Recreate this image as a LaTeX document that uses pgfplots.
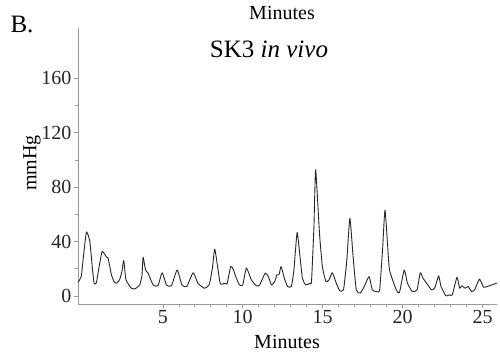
\documentclass[border=0pt]{standalone}
\usepackage{pgfplots}
\pgfplotsset{compat=1.18}
\usepackage{fontspec}
\setmainfont{Liberation Serif}
\begin{document}
\begin{tikzpicture}
\begin{axis}[
  at={(0,0)}, anchor=south west,
  scale only axis, width=419pt, height=276pt,
  xmin=-0.3, xmax=25.9, ymin=-6, ymax=197,
  axis lines=left,
  axis line style={-, draw=gray!80},
  tick style={draw=gray!80, line width=0.5pt},
  tick align=outside,
  major tick length=4pt, minor tick length=2.5pt,
  xtick={5,10,15,20,25}, ytick={0,40,80,120,160},
  minor x tick num=4, minor y tick num=1,
  /pgf/number format/assume math mode=true,
  tick label style={font=\fontsize{20}{20}\selectfont, text=black!85},
  yticklabel style={xshift=1pt},
  xticklabel style={yshift=1pt},
  clip=false,
]
\addplot[black!85, line width=0.9pt, line join=round, smooth, tension=0.3] coordinates {
(-0.3,10) (-0.1,14) (0.05,30) (0.23,47) (0.44,40) (0.6,20) (0.71,9.3) (0.85,9.5)
(1.0,20) (1.21,32.6) (1.48,28.5) (1.58,27.7) (1.8,15) (1.96,10.5) (2.1,9.3) (2.3,11.8)
(2.45,18) (2.56,26) (2.7,11.8) (3.04,5.6) (3.25,5.1) (3.56,8) (3.7,15) (3.77,28.5)
(3.92,19) (4.08,16.7) (4.4,8) (4.7,7.4) (4.96,17) (5.23,8) (5.54,7.4) (5.9,19)
(6.2,8) (6.5,6.9) (6.9,17) (7.2,9.3) (7.6,5.6) (7.9,8) (8.1,20) (8.25,34.4)
(8.46,19) (8.6,8.8) (8.9,9.3) (9.02,8.8) (9.25,21.6) (9.4,19.6) (9.6,13) (9.8,8)
(10.0,8) (10.23,20.4) (10.54,11.8) (10.85,7.4) (11.06,8) (11.4,16.7) (11.6,14.2) (11.8,8)
(12.0,10.5) (12.14,15.5) (12.27,15.5) (12.4,21.6) (12.6,13) (12.8,6.9) (13.04,6.9) (13.2,19)
(13.4,46.6) (13.56,31.4) (13.73,13) (13.94,8) (14.2,9.3) (14.3,10.5) (14.45,50) (14.56,92.8)
(14.8,46) (14.98,21.6) (15.2,10.5) (15.4,11.8) (15.6,17) (15.85,9.3) (16.06,3.9) (16.3,4.4)
(16.5,25) (16.7,57) (16.9,29) (17.1,4.4) (17.35,2) (17.6,6.9) (17.9,14.2) (18.1,4.4)
(18.35,3.2) (18.56,4.4) (18.75,35) (18.9,63) (19.15,21.6) (19.3,14.2) (19.6,4.4) (19.8,2.5)
(20.1,19) (20.3,9.3) (20.6,3.2) (20.9,4.4) (21.1,17) (21.27,13) (21.5,9.3) (21.8,4.4)
(22.0,5.6) (22.25,14.7) (22.4,6.9) (22.7,0) (22.9,0.7) (23.1,0.7) (23.4,13.7) (23.56,5.6)
(23.7,7.4) (23.9,5.6) (24.1,6.9) (24.3,3.2) (24.5,4.4) (24.8,12.3) (25.06,6.4) (25.3,6.9)
(25.75,8.8) (25.9,9.5)
};
\end{axis}
% pixel (px,py) -> (px-78, 304-py) pt
\node[font=\fontsize{20}{20}\selectfont] at (204pt,291pt) {Minutes};
\node[font=\fontsize{25}{25}\selectfont] at (-56pt,280pt) {B.};
\node[font=\fontsize{25}{25}\selectfont] at (191pt,255pt) {SK3 \textit{in vivo}};
\node[font=\fontsize{20}{20}\selectfont] at (209pt,-38pt) {Minutes};
\node[font=\fontsize{20}{20}\selectfont, rotate=90] at (-46pt,141pt) {mmHg};
\pgfresetboundingbox
\path (-78pt,-50pt) rectangle (422pt,304pt);
\end{tikzpicture}
\end{document}
